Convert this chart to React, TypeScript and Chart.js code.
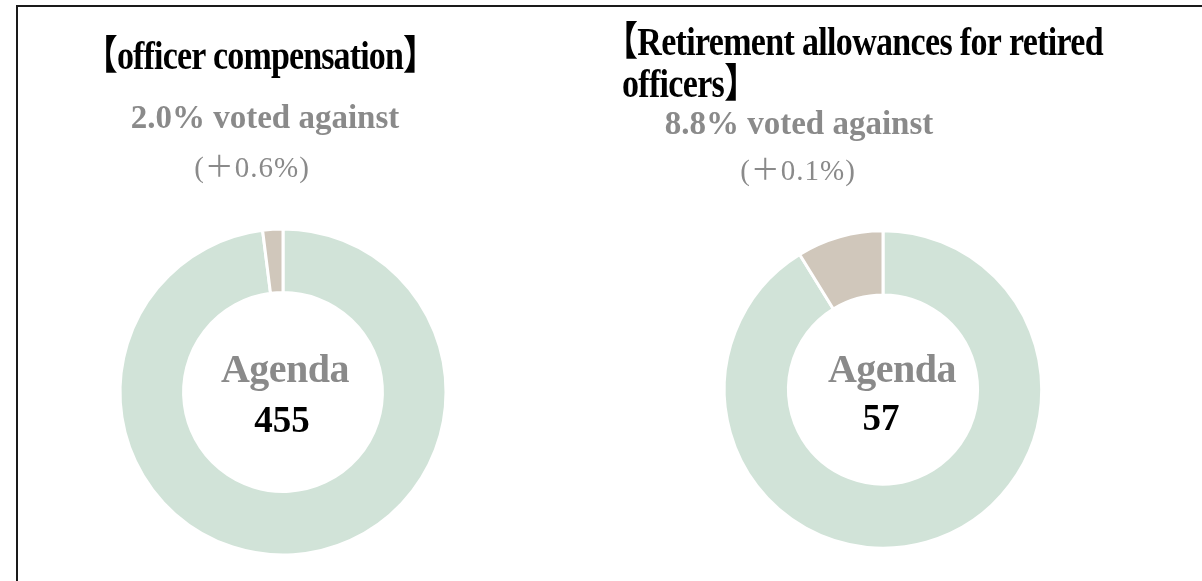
import React, { useEffect, useRef } from "react";
import { Chart, registerables } from "chart.js";
Chart.register(...registerables);

// ---- data ----
const voteLabels = ["For", "Against"];
const compensationValues = [98.0, 2.0];
const retirementValues = [91.2, 8.8];
const compensationTitle = ["【officer compensation】"];
const retirementTitle = ["【Retirement allowances for retired", "officers】"];
const compensationAgainst = "2.0% voted against";
const retirementAgainst = "8.8% voted against";
const compensationChange = "(＋0.6%)";
const retirementChange = "(＋0.1%)";
const centerLabel = "Agenda";
const compensationAgenda = "455";
const retirementAgenda = "57";

const GREEN = "#d1e3d8";
const TAN = "#d0c7bb";
const GRAY = "#8a8a8a";
const SERIF = '"Liberation Serif", "Noto Sans CJK JP", serif';

type TextItem = {
  text: string;
  x: number;
  y: number;
  size: number;
  bold: boolean;
  color: string;
  ls: number;
  sx: number;
  align: CanvasTextAlign;
};

const textPlugin = (items: TextItem[]) => ({
  id: "texts",
  afterDraw(chart: any) {
    const ctx = chart.ctx as CanvasRenderingContext2D;
    for (const it of items) {
      ctx.save();
      ctx.font = `${it.bold ? "bold " : ""}${it.size}px ${SERIF}`;
      (ctx as any).letterSpacing = `${it.ls}px`;
      ctx.fillStyle = it.color;
      ctx.textAlign = it.align;
      ctx.textBaseline = "alphabetic";
      ctx.translate(it.x, it.y);
      ctx.scale(it.sx, 1);
      ctx.fillText(it.text, 0, 0);
      ctx.restore();
    }
  },
});

type DonutProps = {
  values: number[];
  left: number;
  padding: { top: number; bottom: number; left: number; right: number };
  cutout: string;
  texts: TextItem[];
};

function Donut({ values, left, padding, cutout, texts }: DonutProps) {
  const ref = useRef<HTMLCanvasElement | null>(null);
  useEffect(() => {
    if (!ref.current) return;
    const chart = new Chart(ref.current, {
      type: "doughnut",
      data: {
        labels: voteLabels,
        datasets: [
          {
            data: values,
            backgroundColor: [GREEN, TAN],
            borderColor: "#ffffff",
            borderWidth: 3,
          },
        ],
      },
      options: {
        animation: false,
        responsive: false,
        maintainAspectRatio: false,
        cutout,
        layout: { padding },
        plugins: { legend: { display: false }, tooltip: { enabled: false }, title: { display: false } },
      },
      plugins: [textPlugin(texts)],
    });
    return () => chart.destroy();
  }, []);
  return (
    <canvas
      ref={ref}
      width={600}
      height={581}
      style={{ position: "absolute", left, top: 0, width: 600, height: 581 }}
    />
  );
}

const t = (
  text: string,
  x: number,
  y: number,
  size: number,
  bold: boolean,
  color: string,
  ls = 0,
  sx = 1,
  align: CanvasTextAlign = "center"
): TextItem => ({ text, x, y, size, bold, color, ls, sx, align });

export default function App() {
  const leftTexts: TextItem[] = [
    t(compensationTitle[0], 260, 69, 40, true, "#000", -1, 0.85),
    t(compensationAgainst, 265, 128, 33, true, GRAY, 0),
    t(compensationChange, 252, 177, 29, false, GRAY, 1),
    t(centerLabel, 285, 382, 40, true, GRAY, -0.5),
    t(compensationAgenda, 282, 432, 37, true, "#000", 0),
  ];
  const rightTexts: TextItem[] = [
    t(retirementTitle[0], 4, 55, 40, true, "#000", -0.8, 0.85, "left"),
    t(retirementTitle[1], 22, 97, 40, true, "#000", -0.8, 0.85, "left"),
    t(retirementAgainst, 199, 134, 33, true, GRAY, 0),
    t(retirementChange, 198, 180, 29, false, GRAY, 1),
    t(centerLabel, 292, 382, 40, true, GRAY, -0.5),
    t(retirementAgenda, 281, 430, 37, true, "#000", 0),
  ];
  return (
    <div style={{ position: "absolute", left: 0, top: 0, width: 1202, height: 581, overflow: "hidden", background: "#fff" }}>
      <div
        style={{
          position: "absolute",
          left: 16,
          top: 5,
          width: 1200,
          height: 600,
          borderLeft: "2px solid #1a1a1a",
          borderTop: "2px solid #1a1a1a",
        }}
      />
      <Donut
        values={compensationValues}
        left={0}
        padding={{ top: 227.5, bottom: 24.5, left: 0, right: 34 }}
        cutout="61%"
        texts={leftTexts}
      />
      <Donut
        values={retirementValues}
        left={600}
        padding={{ top: 229.3, bottom: 31.3, left: 0, right: 34 }}
        cutout="59.6%"
        texts={rightTexts}
      />
    </div>
  );
}
